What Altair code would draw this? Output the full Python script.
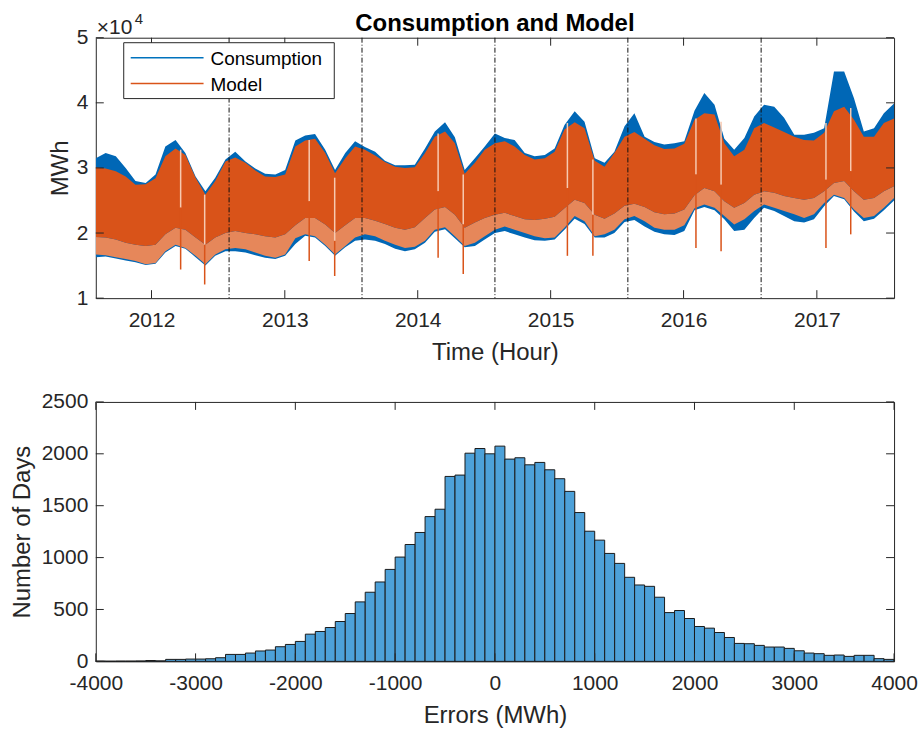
import altair as alt
import pandas as pd

FONT = "Liberation Sans"
INK = "#262626"
BLUE = "#0067B6"
ORANGE = "#D95319"
COMB = "#E6875A"
GAP = "#F7C9B0"
HIST = "#4DA1D9"

# ---------------- top panel: hourly consumption / model envelopes (MWh) ----------------
dates = [
    "2011-08-01", "2011-08-28", "2011-09-25", "2011-10-22", "2011-11-18", "2011-12-16",
    "2012-01-12", "2012-02-08", "2012-03-07", "2012-04-03", "2012-05-01", "2012-05-28",
    "2012-06-24", "2012-07-22", "2012-08-18", "2012-09-15", "2012-10-12", "2012-11-08",
    "2012-12-06", "2013-01-02", "2013-01-30", "2013-02-26", "2013-03-25", "2013-04-22",
    "2013-05-19", "2013-06-16", "2013-07-13", "2013-08-09", "2013-09-06", "2013-10-03",
    "2013-10-31", "2013-11-27", "2013-12-24", "2014-01-21", "2014-02-17", "2014-03-17",
    "2014-04-13", "2014-05-10", "2014-06-07", "2014-07-04", "2014-08-01", "2014-08-28",
    "2014-09-24", "2014-10-22", "2014-11-18", "2014-12-16", "2015-01-12", "2015-02-08",
    "2015-03-08", "2015-04-04", "2015-05-02", "2015-05-29", "2015-06-25", "2015-07-23",
    "2015-08-19", "2015-09-16", "2015-10-13", "2015-11-09", "2015-12-07", "2016-01-03",
    "2016-01-31", "2016-02-27", "2016-03-26", "2016-04-22", "2016-05-19", "2016-06-16",
    "2016-07-13", "2016-08-09", "2016-09-06", "2016-10-03", "2016-10-31", "2016-11-27",
    "2016-12-24", "2017-01-21", "2017-02-17", "2017-03-17", "2017-04-13", "2017-05-10",
    "2017-06-07", "2017-07-04", "2017-08-01",
]
cons_max = [
    31500, 32300, 31800, 30000, 28000, 27700, 29000, 33300, 34300, 32300, 28700, 26400,
    28500, 31300, 32500, 31000, 29900, 29100, 29000, 29700, 34200, 35000, 35200, 32800,
    29700, 32300, 34100, 33200, 32500, 31100, 30400, 30400, 30500, 33000, 35600, 37000,
    34700, 29700, 31500, 33300, 35300, 34600, 34300, 32300, 31800, 32000, 33000, 36600,
    38700, 37100, 31500, 30800, 32500, 36400, 38400, 34800, 34000, 33600, 33800, 34100,
    38800, 41500, 39700, 34500, 32800, 34600, 37900, 39700, 39400, 37700, 35100, 35100,
    35400, 36100, 44800, 44800, 40700, 35600, 36100, 38400, 39900,
]
model_max = [
    30100, 29900, 29500, 28700, 27400, 27500, 28400, 31800, 33000, 32000, 28500, 25900,
    28000, 31000, 31600, 30800, 29600, 28700, 28600, 29000, 33300, 34200, 34500, 32300,
    29200, 31500, 33300, 32800, 31900, 30900, 30200, 30000, 30100, 32300, 34800, 35600,
    33800, 29100, 30800, 32800, 33800, 34100, 33300, 32000, 31300, 31500, 32500, 35900,
    37000, 36100, 31100, 30200, 32300, 34800, 35500, 34500, 33500, 32900, 33000, 33700,
    37400, 38400, 38200, 33800, 31800, 32800, 36100, 36900, 36200, 35500, 34800, 34300,
    34200, 35400, 38700, 39400, 37400, 34800, 34800, 36900, 37600,
]
model_body_min = [
    19400, 19300, 19000, 18500, 18200, 18000, 18200, 19800, 20800, 20500, 19300, 18200,
    19300, 20000, 20300, 20000, 19800, 19500, 19300, 19800, 21200, 22300, 22300, 21300,
    20000, 21200, 22300, 22300, 21900, 21400, 20800, 20500, 20900, 22300, 23600, 24000,
    22800, 20800, 21600, 22300, 22800, 23100, 22600, 22100, 22000, 22200, 22500, 23800,
    25100, 24600, 22800, 22200, 23000, 24200, 24500, 24000, 23200, 22900, 23000, 23600,
    25800, 26900, 26400, 24900, 23900, 24600, 25900, 26400, 26200, 25700, 25400, 25100,
    25400, 26400, 27700, 28000, 26400, 25100, 25400, 26400, 27200,
]
model_min = [
    16700, 16600, 16300, 16000, 15700, 15200, 15400, 17200, 18200, 17700, 16500, 15200,
    16700, 17500, 17700, 17500, 17000, 16500, 16200, 16700, 19200, 19800, 19500, 18200,
    16700, 18000, 19300, 19800, 19500, 18800, 18200, 17700, 17900, 18800, 20500, 20900,
    19500, 18000, 18500, 19500, 20500, 21000, 20500, 20000, 19500, 19200, 19300, 20800,
    22600, 21800, 19500, 19800, 20500, 22100, 22600, 21800, 20800, 20500, 20500, 21200,
    23800, 24400, 23900, 22600, 21300, 22100, 23400, 24400, 23900, 23400, 22900, 22300,
    22900, 24600, 25900, 25400, 23600, 22300, 22600, 23900, 25400,
]
cons_min = [
    16300, 16400, 16100, 15800, 15500, 15100, 15300, 17000, 18000, 17600, 16300, 15000,
    16500, 17200, 17200, 17000, 16600, 16200, 16000, 16500, 18300, 19600, 19300, 18000,
    16500, 17800, 18800, 19000, 18800, 18300, 17600, 17200, 17500, 18500, 20200, 20600,
    19200, 17800, 18000, 19000, 20000, 20300, 19800, 19300, 18900, 18800, 19000, 20500,
    22200, 21400, 19300, 19300, 20000, 21700, 22000, 21000, 20200, 19800, 19700, 20300,
    23500, 24000, 23500, 22100, 20300, 20500, 22300, 23900, 23400, 22600, 21800, 21600,
    22100, 24100, 25700, 25200, 23300, 21800, 22200, 23500, 25000,
]

# holiday dips (orange spike down) and pale gaps in the upper body
holiday_dates = [
    "2012-03-21", "2012-05-26", "2013-03-09", "2013-05-18", "2014-02-26", "2014-05-06",
    "2015-02-16", "2015-04-27", "2016-02-04", "2016-04-13", "2017-01-26", "2017-04-04",
]
holiday_low = [14400, 12100, 15700, 13400, 16200, 13700, 16500, 16500, 17700, 17200, 17700, 19800]
holiday_gap_top = [32800, 25900, 34300, 28500, 35300, 29000, 36900, 31300, 37600, 37100, 36900, 39200]
holiday_gap_bottom = [23900, 18200, 24900, 18800, 26400, 21300, 26900, 22800, 29000, 27400, 28200, 29500]

season_breaks = ["2012-08-01", "2013-08-01", "2014-08-01", "2015-08-01", "2016-08-01"]
year_ticks = [2012, 2013, 2014, 2015, 2016, 2017]
mwh_ticks = [10000, 20000, 30000, 40000, 50000]
series_names = ["Consumption", "Model"]
top_title = "Consumption and Model"

# ---------------- bottom panel: error histogram ----------------
error_bin_start = list(range(-4000, 4000, 100))
error_bin_width = 100
error_counts = [
    3, 2, 3, 3, 4, 8, 5, 19, 19, 22,
    22, 25, 35, 67, 67, 80, 100, 109, 141, 163,
    192, 262, 288, 326, 384, 461, 573, 666, 765, 886,
    1005, 1126, 1242, 1395, 1466, 1782, 1795, 2006, 2051, 2000,
    2074, 1949, 1962, 1894, 1917, 1846, 1760, 1638, 1434, 1254,
    1168, 1040, 944, 810, 736, 723, 618, 470, 490, 413,
    336, 320, 278, 230, 173, 170, 154, 138, 138, 125,
    102, 80, 74, 58, 61, 48, 58, 58, 26, 19,
]
error_ticks = [-4000, -3000, -2000, -1000, 0, 1000, 2000, 3000, 4000]
count_ticks = [0, 500, 1000, 1500, 2000, 2500]

TOP_W, TOP_H = 800, 261
BOT_W, BOT_H = 800, 260
TICK = 8

# ---------------- top chart ----------------
ts = pd.DataFrame({
    "date": dates, "cons_max": cons_max, "model_max": model_max,
    "model_body_min": model_body_min, "model_min": model_min, "cons_min": cons_min,
})
hol = pd.DataFrame({"date": holiday_dates, "low": holiday_low,
                    "gap_top": holiday_gap_top, "gap_bottom": holiday_gap_bottom})

x_scale = alt.Scale(type="utc", domain=[alt.DateTime(year=2011, month=8, date=1, utc=True),
                                         alt.DateTime(year=2017, month=8, date=1, utc=True)])
x_axis = alt.Axis(title="Time (Hour)", format="%Y", labelFlush=False, labelOverlap=False,
                  values=[alt.DateTime(year=y, month=1, date=1, utc=True) for y in year_ticks])
y_scale = alt.Scale(domain=[10000, 50000], nice=False, zero=False)
y_axis = alt.Axis(title="MWh", values=mwh_ticks, labelExpr="'' + datum.value / 10000",
                  titlePadding=4)


def TX(field="date"):
    return alt.X(f"{field}:T", scale=x_scale, axis=x_axis)


def TY(field):
    return alt.Y(f"{field}:Q", scale=y_scale, axis=y_axis)


cons_band = alt.Chart(ts).mark_area(color=BLUE, clip=True).encode(
    x=TX(), y=TY("cons_min"), y2="cons_max:Q")
comb_band = alt.Chart(ts).mark_area(color=COMB, clip=True).encode(
    x=TX(), y=TY("model_min"), y2="model_body_min:Q")
body_band = alt.Chart(ts).mark_area(color=ORANGE, clip=True).encode(
    x=TX(), y=TY("model_body_min"), y2="model_max:Q")
dips = alt.Chart(hol).mark_rule(color=ORANGE, strokeWidth=1.5).encode(
    x=TX(), y=TY("low"), y2="gap_bottom:Q")
gaps = alt.Chart(hol).mark_rule(color=GAP, strokeWidth=1.5).encode(
    x=TX(), y=TY("gap_bottom"), y2="gap_top:Q")
breaks = alt.Chart(pd.DataFrame({"date": season_breaks})).mark_rule(
    color="#111111", strokeWidth=1, strokeDash=[5, 2, 1, 2]).encode(x=TX())

xt = pd.DataFrame({"date": [f"{y}-01-01" for y in year_ticks]})
yt = pd.DataFrame({"v": mwh_ticks})
top_ticks = [
    alt.Chart(xt).mark_rule(color=INK).encode(x=TX(), y=alt.value(0), y2=alt.value(TICK)),
    alt.Chart(xt).mark_rule(color=INK).encode(x=TX(), y=alt.value(TOP_H - TICK), y2=alt.value(TOP_H)),
    alt.Chart(yt).mark_rule(color=INK).encode(y=TY("v"), x=alt.value(0), x2=alt.value(TICK)),
    alt.Chart(yt).mark_rule(color=INK).encode(y=TY("v"), x=alt.value(TOP_W - TICK), x2=alt.value(TOP_W)),
]

one = pd.DataFrame({"k": [0]})
legend_box = alt.Chart(one).mark_rect(fill="white", stroke=INK, strokeWidth=1).encode(
    x=alt.value(28), x2=alt.value(239), y=alt.value(5), y2=alt.value(61))
leg_c_line = alt.Chart(one).mark_rule(color="#0072BD", strokeWidth=1.5).encode(
    x=alt.value(35), x2=alt.value(108), y=alt.value(20))
leg_m_line = alt.Chart(one).mark_rule(color=ORANGE, strokeWidth=1.5).encode(
    x=alt.value(35), x2=alt.value(108), y=alt.value(46))
leg_c_text = alt.Chart(pd.DataFrame({"name": [series_names[0]]})).mark_text(
    align="left", baseline="middle", font=FONT, fontSize=19, color="#000000").encode(
    text="name:N", x=alt.value(115), y=alt.value(21))
leg_m_text = alt.Chart(pd.DataFrame({"name": [series_names[1]]})).mark_text(
    align="left", baseline="middle", font=FONT, fontSize=19, color="#000000").encode(
    text="name:N", x=alt.value(115), y=alt.value(47))

exp_base = alt.Chart(pd.DataFrame({"t": ["\u00d710"]})).mark_text(
    align="left", baseline="alphabetic", font=FONT, fontSize=21, color=INK).encode(
    text="t:N", x=alt.value(1), y=alt.value(-4))
exp_pow = alt.Chart(pd.DataFrame({"t": ["4"]})).mark_text(
    align="left", baseline="alphabetic", font=FONT, fontSize=15, color=INK).encode(
    text="t:N", x=alt.value(39), y=alt.value(-14))
title_text = alt.Chart(pd.DataFrame({"t": [top_title]})).mark_text(
    align="center", baseline="alphabetic", font=FONT, fontSize=24, fontWeight="bold",
    color="#000000").encode(text="t:N", x=alt.value(TOP_W / 2), y=alt.value(-6.5))

top = alt.layer(
    cons_band, comb_band, body_band, gaps, dips, breaks, *top_ticks,
    legend_box, leg_c_line, leg_m_line, leg_c_text, leg_m_text, exp_base, exp_pow, title_text,
).properties(width=TOP_W, height=TOP_H)

# ---------------- bottom chart ----------------
hist = pd.DataFrame({"start": error_bin_start,
                     "end": [s + error_bin_width for s in error_bin_start],
                     "count": error_counts})
ex_scale = alt.Scale(domain=[-4000, 4000], nice=False, zero=False)
ex_axis = alt.Axis(title="Errors (MWh)", values=error_ticks, labelExpr="'' + datum.value",
                   labelFlush=False, labelOverlap=False)
cnt_scale = alt.Scale(domain=[0, 2500], nice=False)
cnt_axis = alt.Axis(title="Number of Days", values=count_ticks, labelExpr="'' + datum.value",
                    titlePadding=7)

bars = alt.Chart(hist).mark_rect(fill=HIST, stroke="#1A1A1A", strokeWidth=1).encode(
    x=alt.X("start:Q", scale=ex_scale, axis=ex_axis), x2="end:Q",
    y=alt.Y("count:Q", scale=cnt_scale, axis=cnt_axis), y2=alt.datum(0))

ext = pd.DataFrame({"v": error_ticks})
cyt = pd.DataFrame({"v": count_ticks})
bot_ticks = [
    alt.Chart(ext).mark_rule(color=INK).encode(
        x=alt.X("v:Q", scale=ex_scale, axis=ex_axis), y=alt.value(0), y2=alt.value(TICK)),
    alt.Chart(ext).mark_rule(color=INK).encode(
        x=alt.X("v:Q", scale=ex_scale, axis=ex_axis), y=alt.value(BOT_H - TICK), y2=alt.value(BOT_H)),
    alt.Chart(cyt).mark_rule(color=INK).encode(
        y=alt.Y("v:Q", scale=cnt_scale, axis=cnt_axis), x=alt.value(0), x2=alt.value(TICK)),
    alt.Chart(cyt).mark_rule(color=INK).encode(
        y=alt.Y("v:Q", scale=cnt_scale, axis=cnt_axis), x=alt.value(BOT_W - TICK), x2=alt.value(BOT_W)),
]

bottom = alt.layer(bars, *bot_ticks).properties(width=BOT_W, height=BOT_H)

chart = alt.vconcat(top, bottom, spacing=25).properties(
    padding={"left": 9, "top": 10, "right": 3, "bottom": 4}
).configure_view(
    stroke=INK, strokeWidth=1
).configure_axis(
    labelFont=FONT, labelFontSize=21, labelColor=INK,
    titleFont=FONT, titleFontSize=24, titleFontWeight="normal", titleColor=INK,
    domain=False, ticks=False, grid=False,
).configure_axisX(
    labelPadding=11, titlePadding=10,
).configure_axisY(
    labelPadding=8,
)

chart.save("out.html", embed_options={"renderer": "svg", "actions": False})
